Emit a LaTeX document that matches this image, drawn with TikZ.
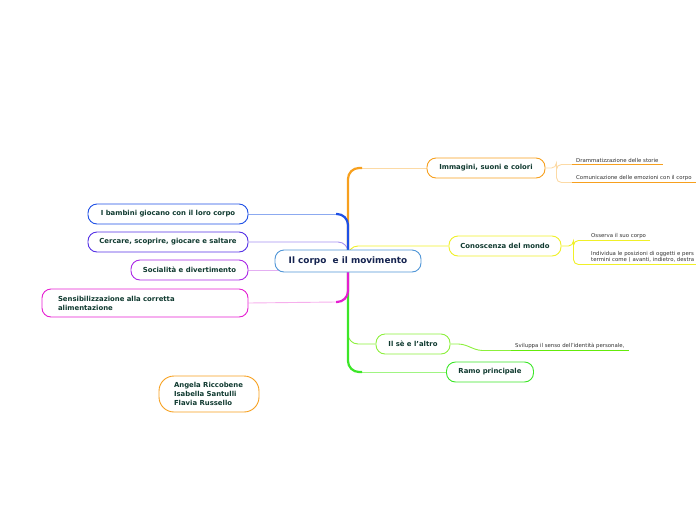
\documentclass[tikz,border=0pt]{standalone}
\usepackage{fontspec}
\setmainfont{DejaVu Sans}
\usepackage{xcolor}
\usepackage{tikz}
\usetikzlibrary{backgrounds}
\definecolor{testo}{RGB}{16,58,48}
\definecolor{notte}{RGB}{22,36,80}
\definecolor{grigio}{RGB}{50,50,50}
\definecolor{celeste}{RGB}{80,150,215}
\definecolor{arancio}{RGB}{247,160,30}
\definecolor{arancioc}{RGB}{252,218,165}
\definecolor{giallo}{RGB}{240,240,40}
\definecolor{blu}{RGB}{30,80,230}
\definecolor{bluc}{RGB}{140,170,240}
\definecolor{indaco}{RGB}{85,50,230}
\definecolor{indacoc}{RGB}{165,145,240}
\definecolor{viola}{RGB}{170,40,230}
\definecolor{violac}{RGB}{228,175,242}
\definecolor{fucsia}{RGB}{230,30,210}
\definecolor{fucsiac}{RGB}{246,175,236}
\definecolor{verde}{RGB}{60,230,40}
\definecolor{verdec}{RGB}{160,245,130}
\definecolor{verdel}{RGB}{140,240,60}
\definecolor{verdes}{RGB}{100,235,10}
\tikzset{
  tema/.style={draw=#1,rounded corners=9pt,line width=0.9pt,fill=white,text=testo,
    font=\bfseries\fontsize{6.9}{9}\selectfont,minimum height=20pt,inner xsep=0pt},
  sotto/.style={anchor=south west,text=grigio,font=\fontsize{5.4}{6.3}\selectfont,inner xsep=4pt,inner ysep=2pt},
  linea/.style={line width=1.4pt,#1},
  ramo/.style={line width=2.2pt,rounded corners=11pt,#1},
  filo/.style={line width=0.9pt,rounded corners=10pt,#1}
}

\begin{document}
\begin{tikzpicture}[x=1pt,y=-1pt]
\useasboundingbox (0,0) rectangle (696,520);
\node[tema=celeste,text=notte,font=\bfseries\fontsize{8.9}{10}\selectfont,minimum width=146pt,minimum height=22pt] (centro) at (348,261) {Il corpo\ \ e il movimento};
\node[tema=arancio,minimum width=118pt] (imm) at (486,168) {Immagini, suoni e colori};
\node[tema=giallo,minimum width=112pt] (conosc) at (505,246) {Conoscenza del mondo};
\node[tema=verdel,minimum width=74pt] (se) at (413,344) {Il sè e l'altro};
\node[tema=verde,minimum width=87pt] (ramo) at (490,372) {Ramo principale};
\node[tema=blu,minimum width=160pt] (bambini) at (168,214) {I bambini giocano con il loro corpo};
\node[tema=indaco,minimum width=160pt] (cercare) at (168,242) {Cercare, scoprire, giocare e saltare};
\node[tema=viola,minimum width=117pt] (social) at (189.5,270) {Socialità e divertimento};
\node[tema=fucsia,minimum height=28pt,text width=174pt,inner xsep=16pt,align=left] (sens) at (145,303) {Sensibilizzazione alla corretta\\alimentazione};
\node[tema=arancio,rounded corners=15pt,minimum height=36pt,text width=70pt,inner xsep=15pt,align=left] (autori) at (209,394) {Angela Riccobene\\Isabella Santulli\\Flavia Russello};

\node[sotto] (dram) at (572,164.5) {Drammatizzazione delle storie};
\node[sotto] (comu) at (572,182.5) {Comunicazione delle emozioni con il corpo};
\node[sotto] (osse) at (587,240.5) {Osserva il suo corpo};
\node[sotto,align=left] (indi) at (587,264.5) {Individua le posizioni di oggetti e pers\\termini come ( avanti, indietro, destra};
\node[sotto] (svil) at (511,350.5) {Sviluppa il senso dell'identità personale,};

\coordinate (tB) at (362,168);
\coordinate (tC) at (336,214);
\coordinate (tD) at (336,302);
\coordinate (tF) at (362,372);

\begin{scope}[on background layer]
% rami principali
\draw[filo=arancioc] (tB) -- (imm.west);
\draw[filo=bluc] (tC) -- (bambini.east);
\draw[filo=indacoc] (centro.center) |- (cercare.east);
\draw[filo=violac] (social.east) -- (social.east -| centro.center);
\draw[filo=fucsiac] (tD) -- (sens.east);
\draw[filo=verdec] (tF) -- (ramo.west);
\draw[filo=verdel] (centro.center) |- (se.west);
\draw[filo=giallo] (centro.center) |- (conosc.west);
\draw[ramo=arancio] (centro.center) |- (tB);
\draw[ramo=blu] (centro.center) |- (tC);
\draw[ramo=verde] (centro.center) |- (tF);
\draw[ramo=fucsia] (centro.center) |- (tD);
% sottorami
\draw[filo=arancioc,rounded corners=5pt] (imm.east) -- ++(11,0) coordinate (iA) |- (dram.south west);
\draw[filo=arancioc,rounded corners=5pt] (iA) |- (comu.south west);
\draw[filo=giallo,rounded corners=5pt] (conosc.east) -- ++(12,0) coordinate (cA) |- (osse.south west);
\draw[filo=giallo,rounded corners=5pt] (cA) |- (indi.south west);
\draw[filo=verdel,rounded corners=4pt] (se.east) -- ++(12,0) -- ++(16,6.5) -- (svil.south west);
\end{scope}

\draw[linea=arancio] (dram.south west) -- (dram.south east);
\draw[linea=arancio] (comu.south west) -- (comu.south east);
\draw[linea=giallo] (osse.south west) -- (osse.south east);
\draw[linea=giallo] (indi.south west) -- (indi.south east);
\draw[linea=verdes] (svil.south west) -- (svil.south east);
\end{tikzpicture}
\end{document}
